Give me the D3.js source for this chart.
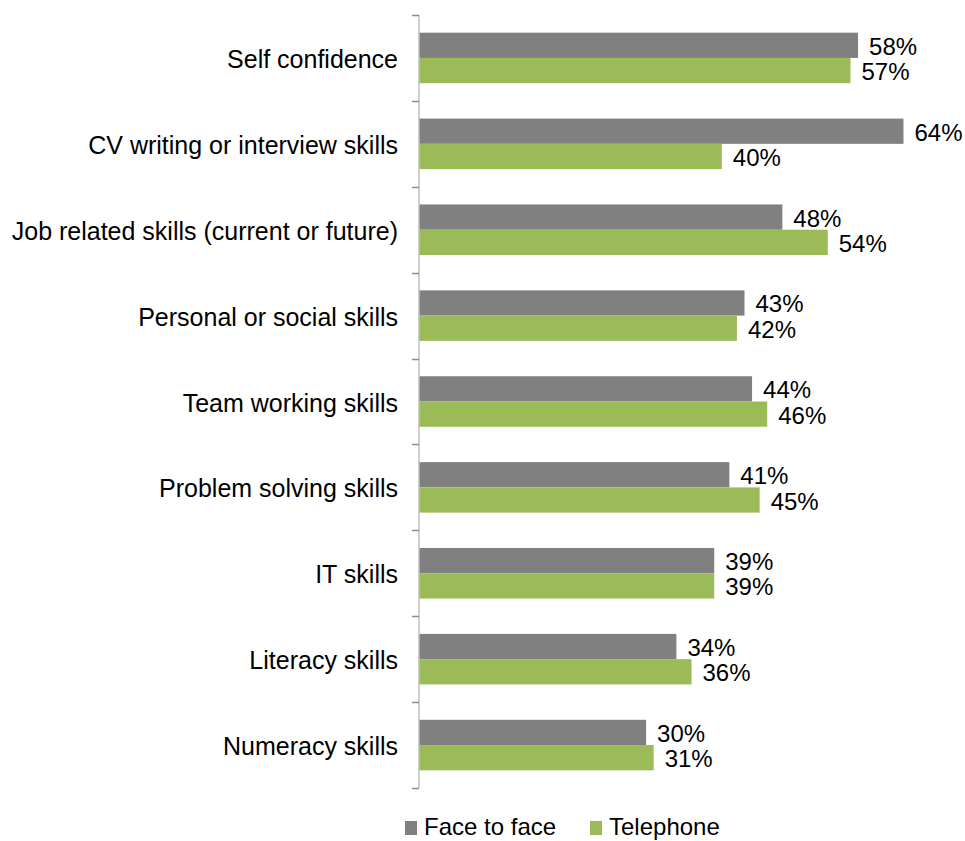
<!DOCTYPE html>
<html>
<head>
<meta charset="utf-8">
<script src="https://cdn.jsdelivr.net/npm/d3@7"></script>
<style>
  html, body { margin: 0; padding: 0; background: #fff; }
  svg { display: block; font-family: "Liberation Sans", Arial, sans-serif; }
</style>
</head>
<body>
<svg id="chart" width="965" height="841"></svg>
<script>
const categories = [
  "Self confidence",
  "CV writing or interview skills",
  "Job related skills (current or future)",
  "Personal or social skills",
  "Team working skills",
  "Problem solving skills",
  "IT skills",
  "Literacy skills",
  "Numeracy skills"
];
const seriesNames = ["Face to face", "Telephone"];
const faceToFace = [58, 64, 48, 43, 44, 41, 39, 34, 30];
const telephone  = [57, 40, 54, 42, 46, 45, 39, 36, 31];
const seriesColors = ["#808080", "#9bbb59"];

const svg = d3.select("#chart");
const axisX = 419, plotTop = 15, plotBottom = 788;

const x = d3.scaleLinear().domain([0, 70]).range([axisX, axisX + 70 * 7.57]);
const y = d3.scaleBand().domain(categories).range([plotTop, plotBottom]).padding(0);
const y1 = d3.scaleBand().domain(seriesNames).range([0, y.bandwidth()])
  .paddingInner(0).paddingOuter(0.7);

const rows = categories.map((c, i) => ({
  category: c,
  values: [
    { series: seriesNames[0], value: faceToFace[i] },
    { series: seriesNames[1], value: telephone[i] }
  ]
}));

const colorOf = d3.scaleOrdinal().domain(seriesNames).range(seriesColors);

const groups = svg.append("g").selectAll("g")
  .data(rows).join("g")
  .attr("transform", d => `translate(0,${y(d.category)})`);

groups.selectAll("rect")
  .data(d => d.values).join("rect")
  .attr("x", x(0))
  .attr("y", d => y1(d.series))
  .attr("width", d => x(d.value) - x(0))
  .attr("height", y1.bandwidth())
  .attr("fill", d => colorOf(d.series));

groups.selectAll("text.val")
  .data(d => d.values).join("text")
  .attr("class", "val")
  .attr("x", d => x(d.value) + 11)
  .attr("y", d => y1(d.series) + y1.bandwidth() / 2 + 9.5)
  .attr("font-size", 24)
  .attr("fill", "#000")
  .text(d => d.value + "%");

// category axis
const yAxis = d3.axisLeft(y).tickSize(0).tickPadding(21);
const ax = svg.append("g").attr("transform", `translate(${axisX},2)`).call(yAxis);
ax.select(".domain").remove();
ax.selectAll("text").attr("font-size", 25).attr("fill", "#000")
  .attr("font-family", "Liberation Sans, Arial, sans-serif");

// axis line and tick marks between categories
svg.append("line")
  .attr("x1", axisX).attr("x2", axisX)
  .attr("y1", plotTop).attr("y2", plotBottom)
  .attr("stroke", "#bfbfbf").attr("stroke-width", 1.5);
const boundaries = categories.map(c => y(c)).concat([plotBottom]);
svg.append("g").selectAll("line")
  .data(boundaries).join("line")
  .attr("x1", axisX - 7).attr("x2", axisX)
  .attr("y1", d => Math.round(d) + 0.5).attr("y2", d => Math.round(d) + 0.5)
  .attr("stroke", "#8c8c8c").attr("stroke-width", 1.5);

// legend
const legendItems = [
  { name: seriesNames[0], x: 405 },
  { name: seriesNames[1], x: 590 }
];
const lg = svg.append("g").selectAll("g")
  .data(legendItems).join("g")
  .attr("transform", d => `translate(${d.x},821)`);
lg.append("rect").attr("width", 12).attr("height", 14)
  .attr("fill", d => colorOf(d.name));
lg.append("text").attr("x", 19).attr("y", 14)
  .attr("font-size", 24).attr("fill", "#000")
  .text(d => d.name);
</script>
</body>
</html>
